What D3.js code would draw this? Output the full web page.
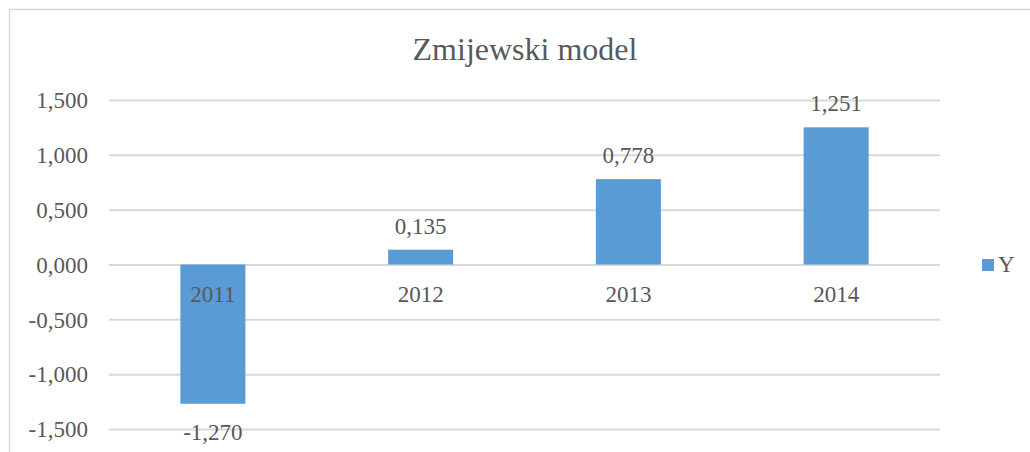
<!DOCTYPE html>
<html>
<head>
<meta charset="utf-8">
<script src="https://cdn.jsdelivr.net/npm/d3@7"></script>
<style>
  body { margin: 0; background: #fff; }
</style>
</head>
<body>
<div class="chart"></div>
<script>
const years = ["2011", "2012", "2013", "2014"];
const yValues = [-1.270, 0.135, 0.778, 1.251];
const yTicks = [-1.5, -1.0, -0.5, 0, 0.5, 1.0, 1.5];
const chartTitle = "Zmijewski model";
const seriesName = "Y";

const width = 1030, height = 452;
const plot = {left: 109, right: 940, top: 100, bottom: 429};
const serif = '"Liberation Serif"';
const textColor = "#595959";

const locale = d3.formatLocale({decimal: ",", thousands: ".", grouping: [3], currency: ["", ""], minus: "-"});
const fmt = locale.format(".3f");

const svg = d3.select(".chart")
  .append("svg")
  .attr("width", width)
  .attr("height", height);

// outer chart frame (runs off right and bottom edge)
svg.append("rect")
  .attr("x", 9.5)
  .attr("y", 9.5)
  .attr("width", width + 10)
  .attr("height", height + 10)
  .attr("fill", "none")
  .attr("stroke", "#d9d9d9")
  .attr("stroke-width", 1.5);

svg.append("text")
  .attr("x", 525)
  .attr("y", 60)
  .attr("text-anchor", "middle")
  .style("font-family", serif)
  .style("font-size", "32px")
  .style("fill", textColor)
  .text(chartTitle);

const x = d3.scaleBand()
  .domain(years)
  .range([plot.left, plot.right])
  .paddingInner(0.687)
  .paddingOuter(0.687 / 2);

const y = d3.scaleLinear()
  .domain([-1.5, 1.5])
  .range([plot.bottom, plot.top]);

// gridlines + y labels
const yAxis = svg.append("g")
  .attr("transform", `translate(${plot.left},0)`)
  .call(d3.axisLeft(y)
    .tickValues(yTicks)
    .tickSize(-(plot.right - plot.left))
    .tickPadding(21)
    .tickFormat(fmt));
yAxis.select(".domain").remove();
yAxis.selectAll(".tick line").attr("stroke", "#d9d9d9").attr("stroke-width", 2);
yAxis.selectAll(".tick text")
  .style("font-family", serif)
  .style("font-size", "23px")
  .style("fill", textColor)
  .attr("dy", "0.34em");

// bars
svg.selectAll(".bar")
  .data(yValues)
  .join("rect")
  .attr("class", "bar")
  .attr("x", (d, i) => x(years[i]))
  .attr("y", d => y(Math.max(0, d)))
  .attr("width", x.bandwidth())
  .attr("height", d => Math.abs(y(d) - y(0)))
  .attr("fill", "#5b9bd5");

// category labels sit just below the zero line
svg.selectAll(".cat")
  .data(years)
  .join("text")
  .attr("class", "cat")
  .attr("x", d => x(d) + x.bandwidth() / 2)
  .attr("y", y(0) + 37)
  .attr("text-anchor", "middle")
  .style("font-family", serif)
  .style("font-size", "23px")
  .style("fill", textColor)
  .text(d => d);

// data labels
svg.selectAll(".val")
  .data(yValues)
  .join("text")
  .attr("class", "val")
  .attr("x", (d, i) => x(years[i]) + x.bandwidth() / 2)
  .attr("y", d => d >= 0 ? y(d) - 16 : y(d) + 36)
  .attr("text-anchor", "middle")
  .style("font-family", serif)
  .style("font-size", "23px")
  .style("fill", textColor)
  .text(d => fmt(d));

// legend
svg.append("rect")
  .attr("x", 982)
  .attr("y", 259)
  .attr("width", 12)
  .attr("height", 12)
  .attr("fill", "#5b9bd5");
svg.append("text")
  .attr("x", 998)
  .attr("y", 272)
  .style("font-family", serif)
  .style("font-size", "23px")
  .style("fill", textColor)
  .text(seriesName);
</script>
</body>
</html>
